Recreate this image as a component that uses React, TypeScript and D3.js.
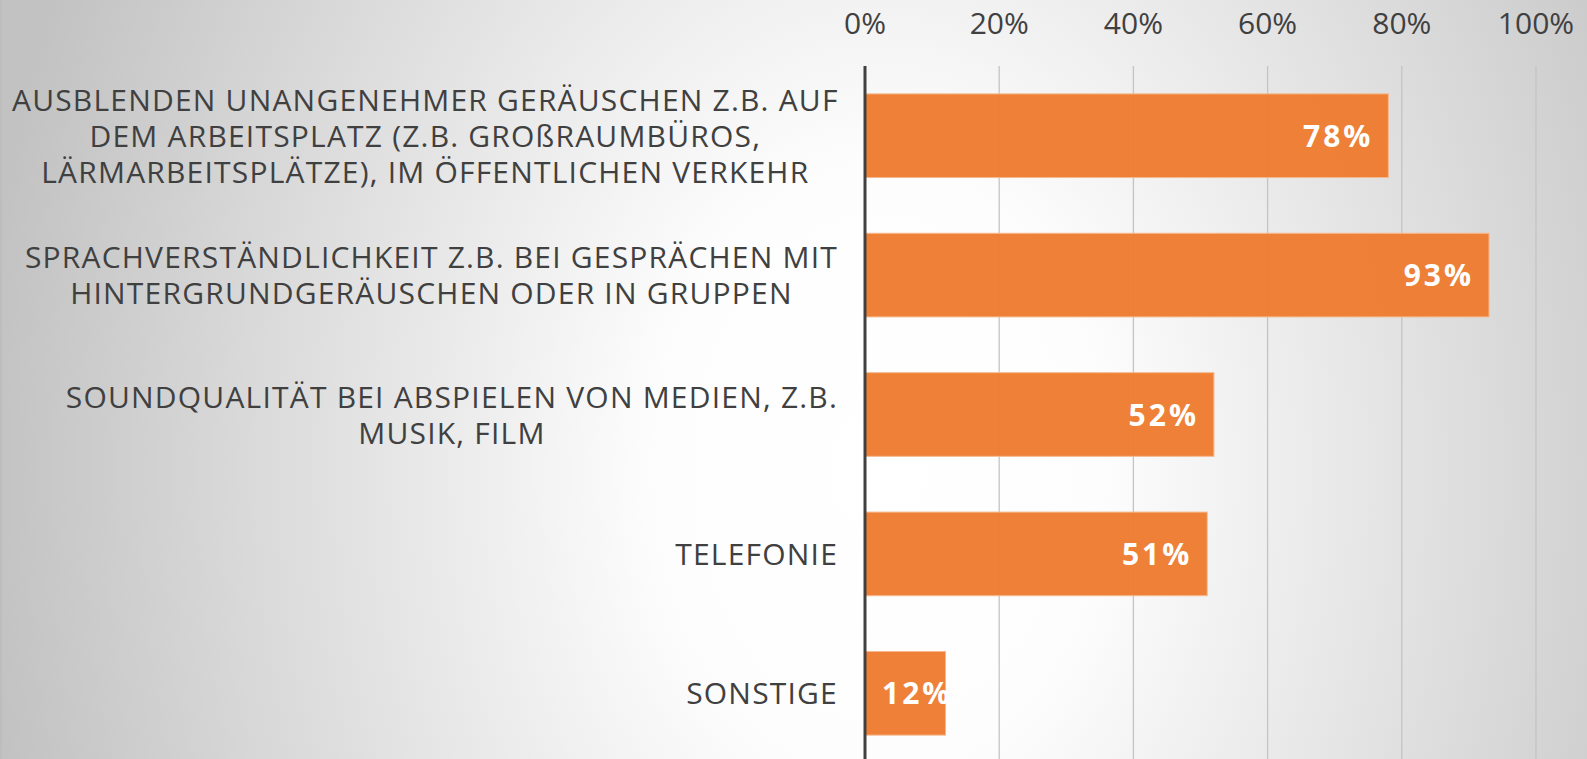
import React from "react";
import * as d3 from "d3";

const categoryLines: string[][] = [
  ["AUSBLENDEN UNANGENEHMER GERÄUSCHEN Z.B. AUF", "DEM ARBEITSPLATZ (Z.B. GROßRAUMBÜROS,", "LÄRMARBEITSPLÄTZE), IM ÖFFENTLICHEN VERKEHR"],
  ["SPRACHVERSTÄNDLICHKEIT Z.B. BEI GESPRÄCHEN MIT", "HINTERGRUNDGERÄUSCHEN ODER IN GRUPPEN"],
  ["SOUNDQUALITÄT BEI ABSPIELEN VON MEDIEN, Z.B.", "MUSIK, FILM"],
  ["TELEFONIE"],
  ["SONSTIGE"],
];
const values: number[] = [78, 93, 52, 51, 12];
const ticks: number[] = [0, 20, 40, 60, 80, 100];

const W = 1587;
const H = 759;
const FONT = "'Open Sans', 'Noto Sans', sans-serif";
const CAT_SIZE = 30;
const CAT_SPACING = 1.2;
const LBL_SIZE = 30;
const LBL_SPACING = 3;

let ctx: CanvasRenderingContext2D | null = null;
function measure(text: string, size: number, weight: string, spacing: number): number {
  if (!ctx) ctx = document.createElement("canvas").getContext("2d");
  if (!ctx) return text.length * size * 0.6;
  ctx.font = `${weight} ${size}px 'Open Sans'`;
  return ctx.measureText(text).width + spacing * text.length;
}

export default function App() {
  const x = d3.scaleLinear().domain([0, 100]).range([865, 1536]);
  const ids = categoryLines.map((_, i) => String(i));
  const y = d3.scaleBand<string>().domain(ids).range([66, 763]).paddingInner(0.4).paddingOuter(0.2);
  const labelRight = 838;
  const lineH = 36;

  return (
    <svg width={W} height={H} style={{ position: "absolute", left: 0, top: 0, display: "block" }} fontFamily={FONT}>
      <defs>
        <radialGradient id="bg" gradientUnits="userSpaceOnUse" cx={880} cy={470} r={900}
          gradientTransform="translate(880,470) scale(1,1.35) translate(-880,-470)">
          <stop offset="0" stopColor="#ffffff" />
          <stop offset="0.25" stopColor="#fdfdfd" />
          <stop offset="1" stopColor="#c2c2c2" />
        </radialGradient>
      </defs>
      <rect x={0} y={0} width={W} height={H} fill="url(#bg)" />
      <rect x={0} y={0} width={2} height={H} fill="#bdbdbd" />

      {ticks.slice(1).map((t) => (
        <line key={"g" + t} x1={x(t)} x2={x(t)} y1={66} y2={H} stroke="#c4c4c4" strokeWidth={1.3} />
      ))}
      {ticks.map((t) => (
        <text key={"t" + t} x={x(t)} y={34} textAnchor="middle" fontSize={30} fill="#404040">
          {t}%
        </text>
      ))}

      {values.map((v, i) => (
        <rect key={"b" + i} x={x(0)} y={y(String(i))} width={x(v) - x(0)} height={y.bandwidth()}
          fill="#ED7D31" fillOpacity={0.97} stroke="#f6b98f" strokeWidth={1} />
      ))}

      <line x1={x(0)} x2={x(0)} y1={66} y2={H} stroke="#404040" strokeWidth={3} />

      {values.map((v, i) => {
        const txt = `${v}%`;
        const w = measure(txt, LBL_SIZE, "bold", LBL_SPACING);
        const end = Math.max(x(v) - 15, x(0) + 17 + w);
        const cy = (y(String(i)) as number) + y.bandwidth() / 2;
        return (
          <text key={"l" + i} x={end - w} y={cy + 11} fontSize={LBL_SIZE} fontWeight="bold" fill="#ffffff"
            letterSpacing={LBL_SPACING}>
            {txt}
          </text>
        );
      })}

      {categoryLines.map((lines, i) => {
        const widths = lines.map((l) => measure(l, CAT_SIZE, "normal", CAT_SPACING));
        const bw = Math.max(...widths);
        const left = Math.max(12, labelRight - bw);
        const cxb = left + bw / 2;
        const cy = (y(String(i)) as number) + y.bandwidth() / 2;
        const top = cy - ((lines.length - 1) * lineH) / 2;
        return (
          <text key={"c" + i} x={cxb} y={top + 11} textAnchor="middle" fontSize={CAT_SIZE}
            fill="#404040" letterSpacing={CAT_SPACING}>
            {lines.map((l, j) => (
              <tspan key={j} x={cxb} dy={j === 0 ? 0 : lineH}>
                {l}
              </tspan>
            ))}
          </text>
        );
      })}
    </svg>
  );
}
